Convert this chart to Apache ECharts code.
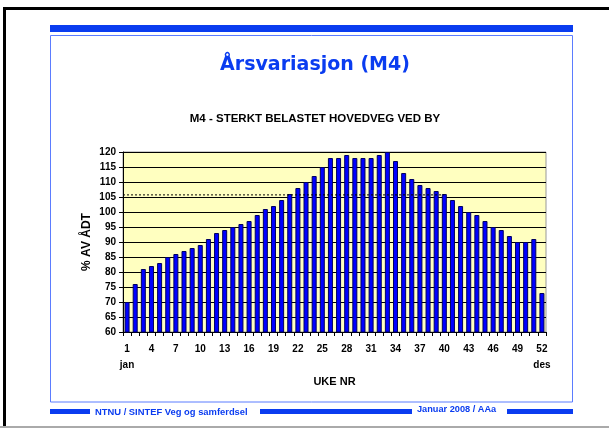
<!DOCTYPE html>
<html>
<head>
<meta charset="utf-8">
<script src="https://cdn.jsdelivr.net/npm/echarts@6/dist/echarts.min.js"></script>
<style>
html,body{margin:0;padding:0;background:#fff;}
#chart{width:609px;height:428px;}
</style>
</head>
<body>
<div id="chart"></div>
<script>
const weeks = Array.from({length: 52}, (_, i) => String(i + 1));
const values = [70, 76, 81, 82, 83, 85, 86, 87, 88, 89,
                91, 93, 94, 95, 96, 97, 99, 101, 102, 104,
                106, 108, 110, 112, 115, 118, 118, 119, 118, 118,
                118, 119, 120, 117, 113, 111, 109, 108, 107, 106,
                104, 102, 100, 99, 97, 95, 94, 92, 90, 90,
                91, 73];
const avgValue = 105.7;
const avgLineWeeks = [0.5, 40];
const yTicks = {min: 60, max: 120, step: 5};
const titleText = 'Årsvariasjon (M4)';
const subtitleText = 'M4 - STERKT BELASTET HOVEDVEG VED BY';
const footerLeft = 'NTNU / SINTEF Veg og samferdsel';
const footerRight = 'Januar 2008 / AAa';

const blue = '#0a3cf0';
const chart = echarts.init(document.getElementById('chart'), null, {renderer: 'canvas'});

const option = {
  backgroundColor: '#fff',
  animation: false,
  grid: {
    left: 123, right: 63, top: 152, bottom: 96,
    show: true, backgroundColor: '#ffffc0', borderColor: '#999', borderWidth: 1
  },
  xAxis: [{
    type: 'category',
    data: weeks,
    boundaryGap: true,
    axisLine: {lineStyle: {color: '#000', width: 1}},
    axisTick: {show: true, interval: 0, length: 4, inside: false, lineStyle: {color: '#000'}},
    axisLabel: {
      interval: (i) => i % 3 === 0,
      margin: 9,
      color: '#000', fontWeight: 'bold', fontSize: 10, fontFamily: 'Liberation Sans, Arial, sans-serif',
      lineHeight: 16,
      formatter: (v, i) => i === 0 ? v + '\njan' : (i === weeks.length - 1 ? v + '\ndes' : v)
    },
    name: 'UKE NR',
    nameLocation: 'middle',
    nameGap: 44,
    nameMoveOverlap: false,
    nameTextStyle: {color: '#000', fontWeight: 'bold', fontSize: 11, fontFamily: 'Liberation Sans, Arial, sans-serif'},
    splitLine: {show: false}
  }, {
    type: 'value',
    min: 0.5, max: 52.5,
    show: false
  }],
  yAxis: {
    type: 'value',
    min: yTicks.min, max: yTicks.max, interval: yTicks.step,
    axisLine: {show: true, lineStyle: {color: '#000'}},
    axisTick: {show: true, length: 4, lineStyle: {color: '#000'}},
    axisLabel: {margin: 7, color: '#000', fontWeight: 'bold', fontSize: 10, fontFamily: 'Liberation Sans, Arial, sans-serif'},
    splitLine: {show: true, lineStyle: {color: '#000', width: 1}},
    name: '% AV ÅDT',
    nameLocation: 'middle',
    nameGap: 30,
    nameRotate: 90,
    nameMoveOverlap: false,
    nameTextStyle: {color: '#000', fontWeight: 'bold', fontSize: 12, fontFamily: 'Liberation Sans, Arial, sans-serif'}
  },
  series: [{
    type: 'bar',
    data: values,
    barWidth: 5,
    itemStyle: {color: '#0000ff', borderColor: '#000060', borderWidth: 1}
  }, {
    type: 'line',
    xAxisIndex: 1,
    data: avgLineWeeks.map(w => [w, avgValue]),
    symbol: 'none',
    lineStyle: {color: '#000', width: 1, type: [2, 2]},
    z: 5
  }],
  graphic: [
    // outer frame
    {type: 'rect', shape: {x: 3, y: 7, width: 610, height: 3}, style: {fill: '#000'}},
    {type: 'rect', shape: {x: 3, y: 7, width: 3, height: 425}, style: {fill: '#000'}},
    {type: 'rect', shape: {x: 0, y: 426, width: 609, height: 2}, style: {fill: '#aaa'}},
    // top blue bar
    {type: 'rect', shape: {x: 50, y: 25, width: 523, height: 7}, style: {fill: blue}},
    // inner box
    {type: 'rect', shape: {x: 50.5, y: 35.5, width: 522, height: 366.5}, style: {fill: 'none', stroke: '#5b7cff', lineWidth: 1}, z: -10},
    // title
    {type: 'text', x: 315, y: 65, style: {text: titleText, fill: blue, font: 'bold 19px "Comic Sans MS", "DejaVu Sans", sans-serif', textAlign: 'center', textVerticalAlign: 'middle'}},
    {type: 'text', x: 315, y: 119, style: {text: subtitleText, fill: '#000', font: 'bold 11.5px "Liberation Sans", Arial, sans-serif', textAlign: 'center', textVerticalAlign: 'middle'}},
    // footer
    {type: 'rect', shape: {x: 50, y: 409, width: 40, height: 5}, style: {fill: blue}},
    {type: 'text', x: 95, y: 412, style: {text: footerLeft, fill: blue, font: 'bold 9.4px "Liberation Sans", Arial, sans-serif', textAlign: 'left', textVerticalAlign: 'middle'}},
    {type: 'rect', shape: {x: 260, y: 409, width: 152, height: 5}, style: {fill: blue}},
    {type: 'text', x: 417, y: 409, style: {text: footerRight, fill: blue, font: 'bold 9.2px "Liberation Sans", Arial, sans-serif', textAlign: 'left', textVerticalAlign: 'middle'}},
    {type: 'rect', shape: {x: 507, y: 409, width: 66, height: 5}, style: {fill: blue}}
  ]
};
chart.setOption(option);
</script>
</body>
</html>
